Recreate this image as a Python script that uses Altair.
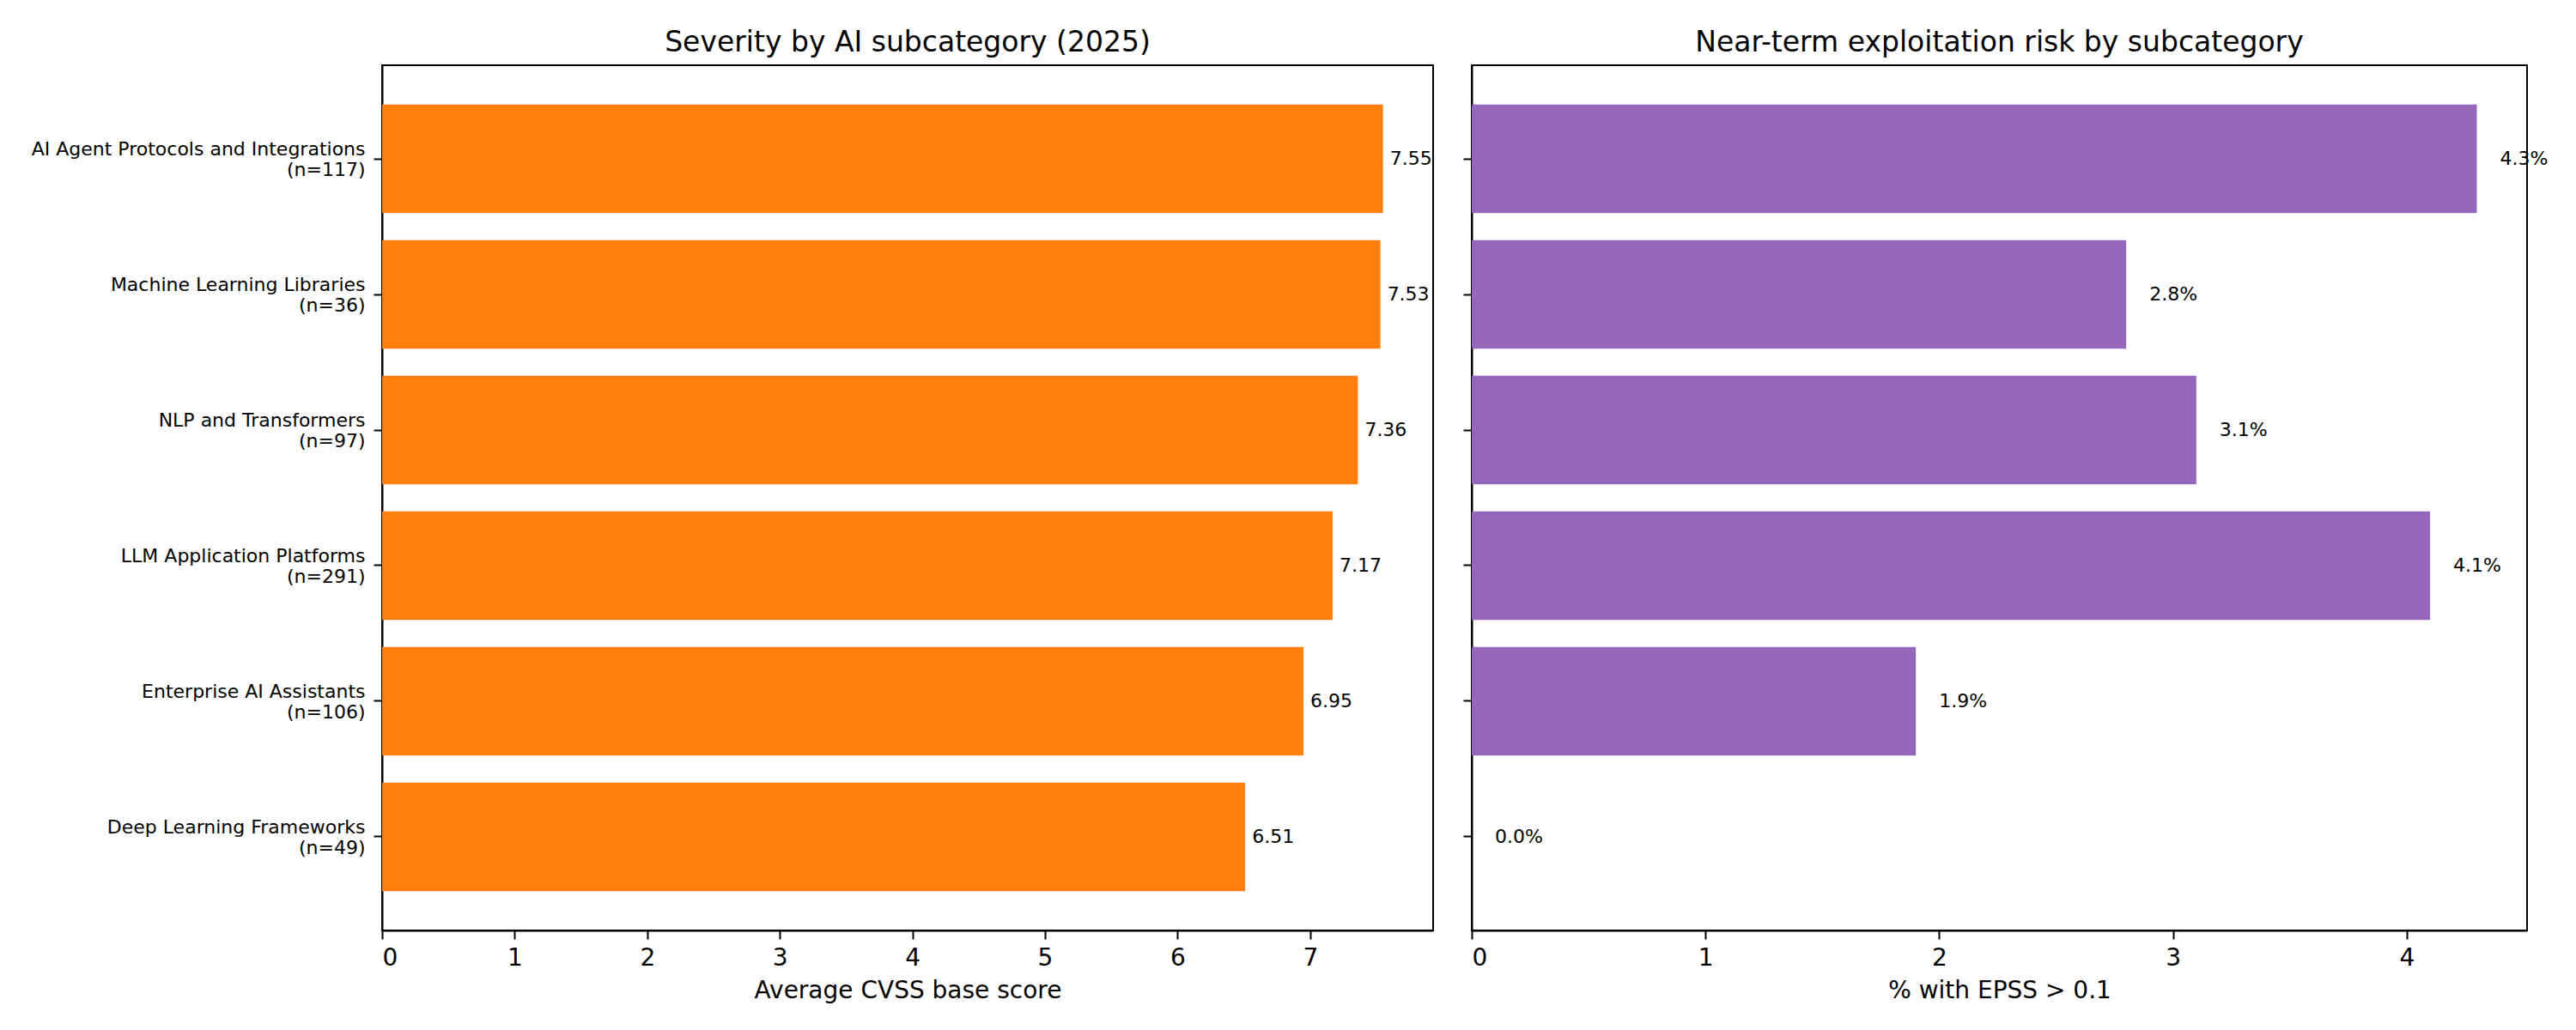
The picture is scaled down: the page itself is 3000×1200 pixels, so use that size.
import altair as alt
import pandas as pd

categories = [
    "AI Agent Protocols and Integrations",
    "Machine Learning Libraries",
    "NLP and Transformers",
    "LLM Application Platforms",
    "Enterprise AI Assistants",
    "Deep Learning Frameworks",
]
counts = [117, 36, 97, 291, 106, 49]
cvss_avg = [7.55, 7.53, 7.36, 7.17, 6.95, 6.51]
epss_pct = [4.3, 2.8, 3.1, 4.1, 1.9, 0.0]

labels = [f"{c}|(n={n})" for c, n in zip(categories, counts)]
df = pd.DataFrame({"label": labels, "cvss": cvss_avg, "epss": epss_pct})
df["cvss_txt"] = [f"{v:.2f}" for v in cvss_avg]
df["epss_txt"] = [f"{v:.1f}%" for v in epss_pct]

FONT = "DejaVu Sans"
H = 1008
W_L = 1224
W_R = 1229

yscale = alt.Scale(paddingInner=0.2, paddingOuter=0.29)

base = alt.Chart(df)

left_y = alt.Y(
    "label:N", sort=labels, scale=yscale,
    axis=alt.Axis(title=None, labelExpr="split(datum.label, '|')",
                  labelFontSize=22, labelLineHeight=24, labelLimit=800,
                  labelOffset=-11, labelPadding=10, tickSize=10,
                  minExtent=434, maxExtent=434),
)
left_bars = base.mark_bar(color="#ff7f0e").encode(
    x=alt.X("cvss:Q", scale=alt.Scale(domain=[0, 7.9275], nice=False, zero=True),
            axis=alt.Axis(values=list(range(8)), title="Average CVSS base score",
                          format="d")),
    y=left_y,
)
left_text = base.mark_text(align="left", baseline="middle", dx=8, fontSize=22,
                           font=FONT, color="black").encode(
    x="cvss:Q", y=alt.Y("label:N", sort=labels), text="cvss_txt:N")
left = (left_bars + left_text).properties(
    width=W_L, height=H,
    title=alt.TitleParams("Severity by AI subcategory (2025)", fontSize=33,
                          font=FONT, fontWeight="normal", offset=9,
                          anchor="middle", color="black"),
)

right_y = alt.Y(
    "label:N", sort=labels, scale=yscale,
    axis=alt.Axis(title=None, labels=False, tickSize=10, minExtent=20,
                  maxExtent=20),
)
right_bars = base.mark_bar(color="#9467bd").encode(
    x=alt.X("epss:Q", scale=alt.Scale(domain=[0, 4.515], nice=False, zero=True),
            axis=alt.Axis(values=list(range(5)), title="% with EPSS > 0.1",
                          format="d")),
    y=right_y,
)
right_text = base.mark_text(align="left", baseline="middle", dx=27, fontSize=22,
                            font=FONT, color="black").encode(
    x="epss:Q", y=alt.Y("label:N", sort=labels), text="epss_txt:N")
right = (right_bars + right_text).properties(
    width=W_R, height=H,
    title=alt.TitleParams("Near-term exploitation risk by subcategory",
                          fontSize=33, font=FONT, fontWeight="normal",
                          offset=9, anchor="middle", color="black"),
)

chart = alt.hconcat(left, right, spacing=23).properties(
    padding={"left": 10, "top": 33, "right": 0, "bottom": 0},
    background="white",
).configure_view(
    stroke="black", strokeWidth=2
).configure_axis(
    domainColor="black", domainWidth=2, tickColor="black", tickWidth=2,
    tickSize=10, labelFont=FONT, labelColor="black", labelFontSize=28,
    labelPadding=8, titleFont=FONT, titleColor="black", titleFontSize=28,
    titleFontWeight="normal", titlePadding=10, grid=False,
).configure_concat(spacing=23)

chart.save("out.html", embed_options={"renderer": "svg", "actions": False})
